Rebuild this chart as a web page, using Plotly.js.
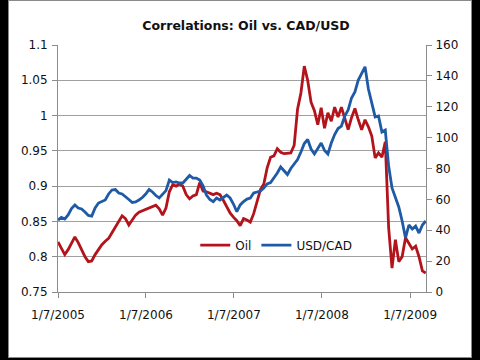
<!DOCTYPE html>
<html>
<head>
<meta charset="utf-8">
<script src="https://cdn.plot.ly/plotly-3.0.1.min.js"></script>
<style>
  html, body { margin: 0; padding: 0; background: #000; width: 480px; height: 360px; overflow: hidden; }
  #chart { position: absolute; left: 9px; top: 1px; width: 462px; height: 356px; background: #fff; box-shadow: 0 0 0 1px #8a8a8a; }
</style>
</head>
<body>
<div id="chart"></div>
<script>
// Biweekly-sampled dates
const dates = [
 "2005-01-07","2005-01-21","2005-02-04","2005-02-18","2005-03-04","2005-03-18","2005-04-01","2005-04-15","2005-04-29","2005-05-13",
 "2005-05-27","2005-06-10","2005-06-24","2005-07-08","2005-07-22","2005-08-05","2005-08-19","2005-09-02","2005-09-16","2005-09-30",
 "2005-10-14","2005-10-28","2005-11-11","2005-11-25","2005-12-09","2005-12-23","2006-01-06","2006-01-20","2006-02-03","2006-02-17",
 "2006-03-03","2006-03-17","2006-03-31","2006-04-14","2006-04-28","2006-05-12","2006-05-26","2006-06-09","2006-06-23","2006-07-07",
 "2006-07-21","2006-08-04","2006-08-18","2006-09-01","2006-09-15","2006-09-29","2006-10-13","2006-10-27","2006-11-10","2006-11-24",
 "2006-12-08","2006-12-22","2007-01-05","2007-01-19","2007-02-02","2007-02-16","2007-03-02","2007-03-16","2007-03-30","2007-04-13",
 "2007-04-27","2007-05-11","2007-05-25","2007-06-08","2007-06-22","2007-07-06","2007-07-20","2007-08-03","2007-08-17","2007-08-31",
 "2007-09-14","2007-09-28","2007-10-12","2007-10-26","2007-11-09","2007-11-23","2007-12-07","2007-12-21","2008-01-04","2008-01-18",
 "2008-02-01","2008-02-15","2008-02-29","2008-03-14","2008-03-28","2008-04-11","2008-04-25","2008-05-09","2008-05-23","2008-06-06",
 "2008-06-20","2008-07-04","2008-07-18","2008-08-01","2008-08-15","2008-08-29","2008-09-12","2008-09-26","2008-10-10","2008-10-24",
 "2008-11-07","2008-11-21","2008-12-05","2008-12-19","2009-01-02","2009-01-16","2009-01-30","2009-02-13","2009-02-27","2009-03-13"
];

// Red series (left axis)
const oil = [
 0.821,0.813,0.803,0.810,0.819,0.828,0.820,0.810,0.800,0.793,
 0.794,0.803,0.811,0.817,0.822,0.826,0.834,0.842,0.852,0.858,
 0.854,0.845,0.852,0.859,0.863,0.865,0.868,0.870,0.872,0.873,
 0.868,0.859,0.869,0.892,0.902,0.900,0.903,0.900,0.888,0.882,
 0.886,0.888,0.905,0.893,0.892,0.890,0.888,0.890,0.888,0.880,
 0.871,0.862,0.856,0.851,0.844,0.854,0.852,0.849,0.861,0.879,
 0.895,0.903,0.926,0.941,0.943,0.953,0.948,0.946,0.947,0.947,
 0.958,1.009,1.032,1.070,1.050,1.019,1.007,0.987,1.011,0.982,
 1.004,0.992,1.012,0.998,1.012,0.997,0.980,0.997,1.010,0.994,
 0.980,0.994,0.984,0.971,0.940,0.947,0.941,0.963,0.841,0.784,
 0.824,0.793,0.800,0.827,0.818,0.811,0.815,0.800,0.780,0.777
];

// Blue series (right axis)
const usdcad = [
 46.6,48.3,47.3,49.9,54.1,56.4,54.4,53.8,51.8,49.6,
 49.2,54.4,57.6,58.6,59.6,63.5,66.1,66.4,64.1,63.5,
 61.9,59.9,58.0,58.3,59.6,61.2,63.5,66.4,64.8,62.5,
 60.9,63.5,65.7,72.5,70.9,71.3,70.6,70.6,73.2,75.5,
 73.8,73.8,72.5,68.7,62.8,59.9,58.5,60.9,59.6,61.5,
 62.8,60.9,57.0,52.0,56.4,58.6,60.2,60.9,64.1,64.8,
 65.4,67.4,70.0,70.9,73.8,77.1,81.0,78.4,76.1,80.0,
 82.9,85.8,90.7,96.2,98.8,92.6,89.4,92.6,96.5,91.7,
 89.4,96.5,102.0,105.9,107.5,114.0,117.9,125.7,129.6,137.3,
 141.2,145.9,131.5,121.8,113.4,114.0,103.6,104.9,81.6,67.4,
 60.9,55.1,46.0,35.0,43.4,40.8,42.7,38.2,43.4,46.0
];

const xTickVals = ["2005-01-07","2006-01-07","2007-01-07","2008-01-07","2009-01-07"];
const xTickText = ["1/7/2005","1/7/2006","1/7/2007","1/7/2008","1/7/2009"];

const font = "DejaVu Sans, sans-serif";
const textColor = "#111";

const traces = [
  { x: dates, y: oil, name: "Oil", type: "scatter", mode: "lines", yaxis: "y",
    line: { color: "#b3141c", width: 2.8 } },
  { x: dates, y: usdcad, name: "USD/CAD", type: "scatter", mode: "lines", yaxis: "y2",
    line: { color: "#1f5aa6", width: 2.8 } }
];

const layout = {
  width: 462, height: 356,
  margin: { l: 49, r: 45, t: 44, b: 65 },
  paper_bgcolor: "#fff", plot_bgcolor: "#fff",
  font: { family: font, size: 12, color: textColor },
  title: { text: "Correlations: Oil vs. CAD/USD", x: 0.513, xref: "container", xanchor: "center",
           y: 0.93, yref: "container", yanchor: "middle",
           font: { family: font, size: 12.5, color: textColor, weight: "bold" } },
  showlegend: true,
  legend: { orientation: "h", x: 0.373, xanchor: "left", y: 0.19, yanchor: "middle",
            bgcolor: "rgba(0,0,0,0)", font: { family: font, size: 12, color: textColor } },
  xaxis: { type: "date", range: ["2005-01-07", "2009-03-14"], tickmode: "array",
           tickvals: xTickVals, ticktext: xTickText, showgrid: false, zeroline: false,
           showline: true, linecolor: "#8c8c8c", linewidth: 1, ticklabelstandoff: 7,
           ticks: "outside", ticklen: 5, tickcolor: "#8c8c8c", tickfont: { size: 12 } },
  yaxis: { range: [0.75, 1.1], dtick: 0.05, tick0: 0.75, showgrid: true, gridcolor: "#a0a0a0",
           zeroline: false, showline: true, linecolor: "#8c8c8c", ticks: "outside", ticklen: 5,
           ticklabelstandoff: 2, tickcolor: "#8c8c8c", tickfont: { size: 12 } },
  yaxis2: { range: [0, 160], dtick: 20, overlaying: "y", side: "right", showgrid: false,
            zeroline: false, showline: true, linecolor: "#8c8c8c", ticks: "outside", ticklen: 5,
            ticklabelstandoff: 1, tickcolor: "#8c8c8c", tickfont: { size: 12 } }
};

Plotly.newPlot("chart", traces, layout, { displayModeBar: false, staticPlot: true });
</script>
</body>
</html>
